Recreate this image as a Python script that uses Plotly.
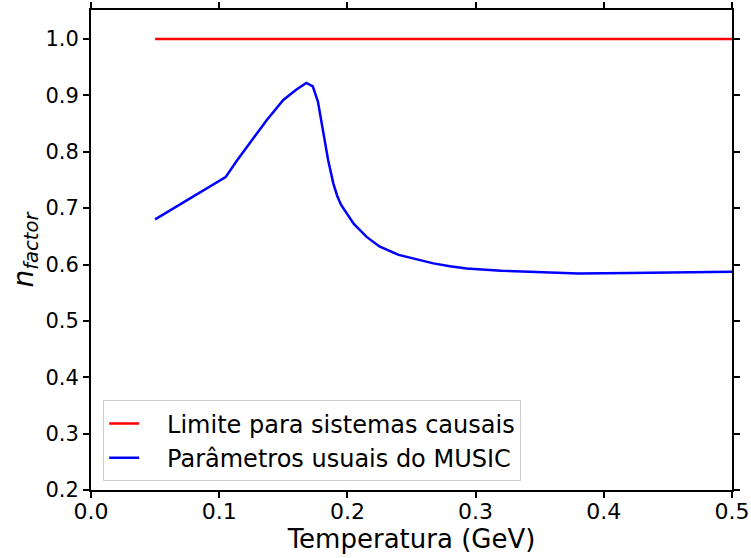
import plotly.graph_objects as go

# Data
temp_limit = [0.05, 0.5]
n_limit = [1.0, 1.0]

temp_music = [0.05, 0.105, 0.114, 0.124, 0.137, 0.150, 0.160, 0.168, 0.173, 0.177,
              0.181, 0.185, 0.189, 0.192, 0.195, 0.200, 0.205, 0.215, 0.225, 0.240,
              0.255, 0.267, 0.280, 0.293, 0.320, 0.350, 0.380, 0.420, 0.460, 0.500]
n_music = [0.680, 0.755, 0.785, 0.815, 0.856, 0.892, 0.910, 0.922, 0.916, 0.889,
           0.839, 0.785, 0.744, 0.722, 0.706, 0.688, 0.672, 0.649, 0.632, 0.617,
           0.608, 0.602, 0.597, 0.593, 0.589, 0.586, 0.584, 0.585, 0.586, 0.587]

x_ticks = [0.0, 0.1, 0.2, 0.3, 0.4, 0.5]
y_ticks = [0.2, 0.3, 0.4, 0.5, 0.6, 0.7, 0.8, 0.9, 1.0]

font_family = "DejaVu Sans"
pad = "&nbsp;&nbsp;&nbsp;"

fig = go.Figure()
fig.add_trace(go.Scatter(x=temp_limit, y=n_limit, mode="lines",
                         line=dict(color="#ff0000", width=2.5),
                         name=pad + "Limite para sistemas causais", legendgroup="a"))
fig.add_trace(go.Scatter(x=temp_music, y=n_music, mode="lines",
                         line=dict(color="#0000ff", width=2.5),
                         name=pad + "Parâmetros usuais do MUSIC", legendgroup="b"))

axis_common = dict(showgrid=False, zeroline=False, showline=True, linecolor="black",
                   linewidth=2, ticks="outside", ticklen=6, tickwidth=1.5,
                   tickcolor="black", mirror="ticks", automargin=False)

fig.update_layout(
    width=751, height=558,
    margin=dict(l=91, r=19, t=10, b=68),
    paper_bgcolor="white", plot_bgcolor="white",
    font=dict(family=font_family, color="black"),
    xaxis=dict(range=[0.0, 0.5], tickvals=x_ticks,
               ticktext=[f"{v:.1f}" for v in x_ticks],
               tickfont=dict(family=font_family, size=22, color="black"),
               ticklabelstandoff=-5,
               title=dict(text="Temperatura (GeV)", font=dict(size=26), standoff=0),
               **axis_common),
    yaxis=dict(range=[0.2, 1.0515], tickvals=y_ticks,
               ticktext=[f"{v:.1f}" for v in y_ticks],
               tickfont=dict(family=font_family, size=21, color="black"),
               title=dict(text="<i>n</i><sub><i>factor</i></sub>", font=dict(size=28), standoff=4),
               **axis_common),
    legend=dict(x=0.019, y=0.018, xanchor="left", yanchor="bottom",
                bgcolor="rgba(255,255,255,0.8)", bordercolor="#cccccc", borderwidth=1,
                font=dict(family=font_family, size=24, color="black"),
                tracegroupgap=0),
    showlegend=True,
)

fig.write_html("out.html")
